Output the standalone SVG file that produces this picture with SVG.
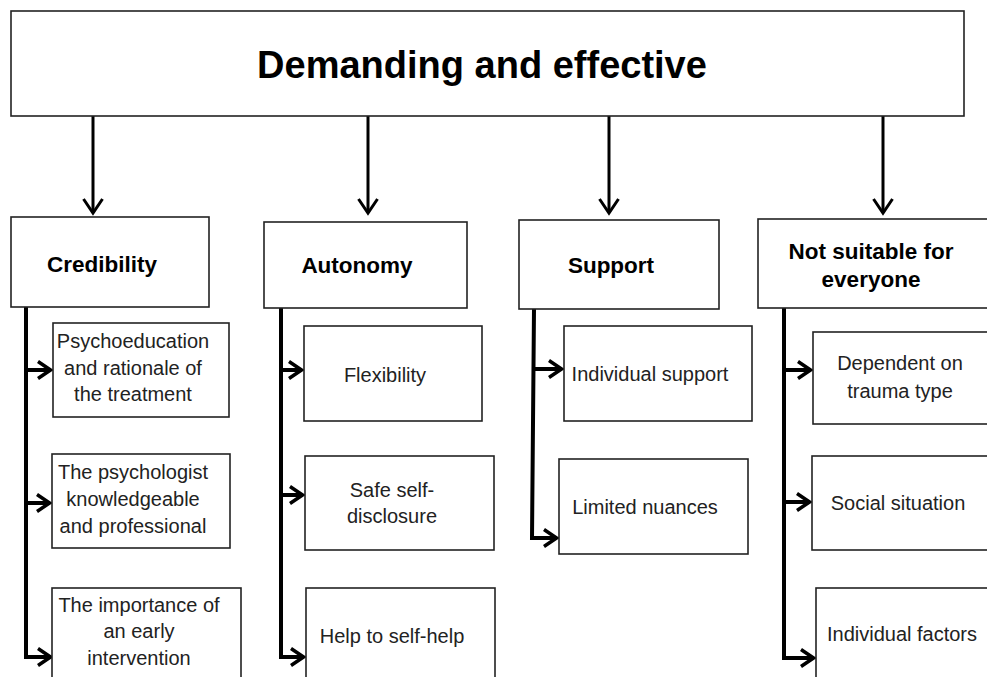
<svg xmlns="http://www.w3.org/2000/svg" width="987" height="677" viewBox="0 0 987 677">
<style>
.box{fill:#fff;stroke:#222;stroke-width:1.6}
.t{font-family:"Liberation Sans",Arial,sans-serif;font-size:20px;fill:#222;text-anchor:middle}
.h{font-family:"Liberation Sans",Arial,sans-serif;font-size:22.5px;font-weight:bold;fill:#000;text-anchor:middle}
.title{font-family:"Liberation Sans",Arial,sans-serif;font-size:38px;font-weight:bold;fill:#000;text-anchor:middle}
.down{fill:none;stroke:#000;stroke-width:3;marker-end:url(#chev)}
.side{fill:none;stroke:#000;stroke-width:4;marker-end:url(#chev2)}
</style>
<defs>
<marker id="chev" viewBox="0 0 18 22" refX="15" refY="11" markerWidth="18" markerHeight="22" markerUnits="userSpaceOnUse" orient="auto">
<path d="M1,1.5 L15,11 L1,20.5" fill="none" stroke="#000" stroke-width="3"/>
</marker>
<marker id="chev2" viewBox="0 0 16 20" refX="14" refY="10" markerWidth="16" markerHeight="20" markerUnits="userSpaceOnUse" orient="auto">
<path d="M1,1.5 L13.5,10 L1,18.5" fill="none" stroke="#000" stroke-width="3.5"/>
</marker>
</defs>
<rect width="987" height="677" fill="#fff"/>

<g id="connectors">
<path class="down" d="M93,116 V213"/>
<path class="down" d="M368,116 V213"/>
<path class="down" d="M609,116 V213"/>
<path class="down" d="M883,116 V213"/>

<path class="side" d="M26,307 V657 H51"/>
<path class="side" d="M26,370 H51"/>
<path class="side" d="M26,503 H50"/>

<path class="side" d="M281,308 V657 H304"/>
<path class="side" d="M281,370 H302"/>
<path class="side" d="M281,495 H303"/>

<path class="side" d="M534,309 L532,538 H557"/>
<path class="side" d="M534,369 H562"/>

<path class="side" d="M784,308 V658 H814"/>
<path class="side" d="M784,370 H811"/>
<path class="side" d="M784,502 H810"/>
</g>

<g id="root">
<rect class="box" x="11" y="11" width="953" height="105"/>
<text class="title" x="482" y="78">Demanding and effective</text>
</g>

<g id="credibility">
<rect class="box" x="11" y="217" width="198" height="90"/>
<text class="h" x="102" y="272">Credibility</text>
</g>
<g id="autonomy">
<rect class="box" x="264" y="222" width="203" height="86"/>
<text class="h" x="357" y="273">Autonomy</text>
</g>
<g id="support">
<rect class="box" x="519" y="220" width="200" height="89"/>
<text class="h" x="611" y="273">Support</text>
</g>
<g id="notsuitable">
<rect class="box" x="758" y="219" width="240" height="89"/>
<text class="h" x="871" y="259">Not suitable for</text>
<text class="h" x="871" y="287">everyone</text>
</g>

<g id="psychoeducation">
<rect class="box" x="53" y="323" width="176" height="94"/>
<text class="t" x="133" y="348">Psychoeducation</text>
<text class="t" x="133" y="375">and rationale of</text>
<text class="t" x="133" y="401">the treatment</text>
</g>
<g id="psychologist">
<rect class="box" x="52" y="454" width="178" height="94"/>
<text class="t" x="133" y="479">The psychologist</text>
<text class="t" x="133" y="506">knowledgeable</text>
<text class="t" x="133" y="533">and professional</text>
</g>
<g id="early">
<rect class="box" x="52" y="588" width="189" height="100"/>
<text class="t" x="139" y="612">The importance of</text>
<text class="t" x="139" y="638">an early</text>
<text class="t" x="139" y="665">intervention</text>
</g>

<g id="flexibility">
<rect class="box" x="304" y="326" width="178" height="95"/>
<text class="t" x="385" y="382">Flexibility</text>
</g>
<g id="selfdisclosure">
<rect class="box" x="305" y="456" width="189" height="94"/>
<text class="t" x="392" y="497">Safe self-</text>
<text class="t" x="392" y="523">disclosure</text>
</g>
<g id="selfhelp">
<rect class="box" x="306" y="588" width="189" height="100"/>
<text class="t" x="392" y="643">Help to self-help</text>
</g>

<g id="individualsupport">
<rect class="box" x="564" y="326" width="188" height="95"/>
<text class="t" x="650" y="381">Individual support</text>
</g>
<g id="limitednuances">
<rect class="box" x="559" y="459" width="189" height="95"/>
<text class="t" x="645" y="514">Limited nuances</text>
</g>

<g id="traumatype">
<rect class="box" x="813" y="332" width="185" height="92"/>
<text class="t" x="900" y="370">Dependent on</text>
<text class="t" x="900" y="398">trauma type</text>
</g>
<g id="social">
<rect class="box" x="812" y="456" width="186" height="94"/>
<text class="t" x="898" y="510">Social situation</text>
</g>
<g id="individualfactors">
<rect class="box" x="816" y="588" width="182" height="100"/>
<text class="t" x="902" y="641">Individual factors</text>
</g>
</svg>
